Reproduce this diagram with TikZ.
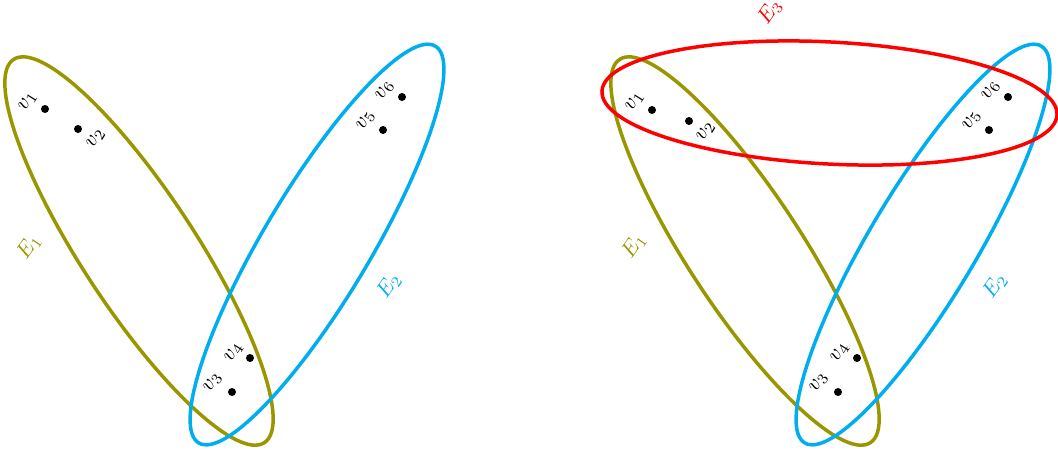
\documentclass[tikz,border=0pt]{standalone}
\usetikzlibrary{shapes.geometric}
\definecolor{eolive}{RGB}{153,150,0}
\definecolor{ecyan}{RGB}{0,174,239}
\definecolor{ered}{RGB}{255,0,0}
\begin{document}
\begin{tikzpicture}[x=0.6pt,y=-0.6pt,
  hedge/.style={draw, ellipse, line width=2.1pt, inner sep=0pt, outer sep=0pt},
  vtx/.style={circle, fill=black, inner sep=0pt, minimum size=4.8pt},
  vlab/.style={rotate=58, inner sep=0pt, scale=1.3},
  elab/.style={rotate=55, inner sep=0pt, scale=1.3}]
\useasboundingbox (0,0) rectangle (1058,454);
% left diagram
\node[hedge, eolive, minimum width=274.8pt, minimum height=68.4pt, rotate=-56.8] (E1a) at (139,251) {};
\node[hedge, ecyan, minimum width=277.2pt, minimum height=64.2pt, rotate=59.2] (E2a) at (317,244.5) {};
\node[vtx] (v1a) at (45,109) {};
\node[vtx] (v2a) at (78,129) {};
\node[vtx] (v3a) at (232,392) {};
\node[vtx] (v4a) at (250,358) {};
\node[vtx] (v5a) at (383,130) {};
\node[vtx] (v6a) at (402,97) {};
\node[vlab] (l1a) at (28,101) {$v_1$};
\node[vlab] (l2a) at (96,138) {$v_2$};
\node[vlab] (l3a) at (213,382) {$v_3$};
\node[vlab] (l4a) at (234,352) {$v_4$};
\node[vlab] (l5a) at (366,120) {$v_5$};
\node[vlab] (l6a) at (385,90) {$v_6$};
\node[elab, eolive] (t1a) at (29,247) {$E_1$};
\node[elab, ecyan] (t2a) at (389,286) {$E_2$};
% right diagram
\node[hedge, eolive, minimum width=274.8pt, minimum height=68.4pt, rotate=-56.8] (E1b) at (745,251) {};
\node[hedge, ecyan, minimum width=277.2pt, minimum height=64.2pt, rotate=59.2] (E2b) at (923,244.5) {};
\node[hedge, ered, minimum width=273.4pt, minimum height=73.2pt, rotate=-3] (E3b) at (829.5,103) {};
\node[vtx] (v1b) at (652,110) {};
\node[vtx] (v2b) at (689,121) {};
\node[vtx] (v3b) at (838,392) {};
\node[vtx] (v4b) at (857,358) {};
\node[vtx] (v5b) at (989,130) {};
\node[vtx] (v6b) at (1008,97) {};
\node[vlab] (l1b) at (635,101) {$v_1$};
\node[vlab] (l2b) at (706,131) {$v_2$};
\node[vlab] (l3b) at (819,382) {$v_3$};
\node[vlab] (l4b) at (840,352) {$v_4$};
\node[vlab] (l5b) at (972,120) {$v_5$};
\node[vlab] (l6b) at (991,90) {$v_6$};
\node[elab, eolive] (t1b) at (634,246) {$E_1$};
\node[elab, ecyan] (t2b) at (995,286) {$E_2$};
\node[elab, ered] (t3b) at (770,12) {$E_3$};
\end{tikzpicture}
\end{document}
